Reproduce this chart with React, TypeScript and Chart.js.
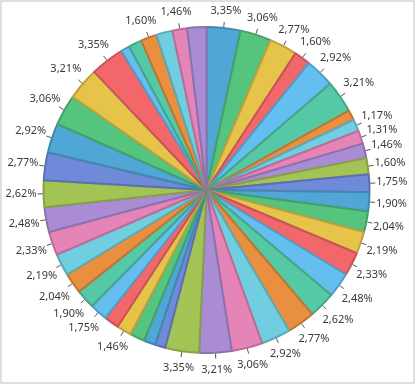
import { useEffect, useRef } from 'react';
import { Chart, registerables } from 'chart.js';

Chart.register(...registerables);

const categories = [
  'P01', 'P02', 'P03', 'P04', 'P05', 'P06', 'P07', 'P08', 'P09', 'P10',
  'P11', 'P12', 'P13', 'P14', 'P15', 'P16', 'P17', 'P18', 'P19', 'P20',
  'P21', 'P22', 'P23', 'P24', 'P25', 'P26', 'P27', 'P28', 'P29', 'P30',
  'P31', 'P32', 'P33', 'P34', 'P35', 'P36', 'P37', 'P38', 'P39', 'P40',
  'P41', 'P42', 'P43', 'P44', 'P45', 'P46',
];

const values = [
  23, 21, 19, 11, 20, 22,
  7, 8, 9, 10, 11, 12, 13, 14, 15, 16, 17, 18, 19, 20, 21, 22, 23,
  7, 8, 10, 10, 10,
  12, 13, 14, 15, 16, 17, 18, 19, 20, 21, 22, 23,
  6, 9, 11, 11, 10, 13,
];

// labels that the reference hides (overlap)
const hiddenLabels = [24, 25, 27, 41, 43, 45];

const palette = [
  '#50A6D4', '#54C47E', '#E6C44A', '#F2686A', '#64BEF0', '#55C9A6',
  '#E89040', '#70CEE0', '#E584B7', '#AA8CD4', '#A3C455', '#6E8AD8',
];
const borderPalette = [
  '#4288AE', '#45A167', '#BDA13D', '#C65557', '#529CC5', '#46A588',
  '#BE7634', '#5CA9B8', '#BC6C96', '#8B73AE', '#86A146', '#5A71B1',
];

const labelPlugin = {
  id: 'outLabels',
  afterDatasetsDraw(chart: any) {
    const ctx = chart.ctx as CanvasRenderingContext2D;
    const meta = chart.getDatasetMeta(0);
    const ds = chart.data.datasets[0].data as number[];
    const total = ds.reduce((a, b) => a + b, 0);
    ctx.save();
    ctx.font = '11px "Noto Sans"';
    ctx.textBaseline = 'middle';
    ctx.textAlign = 'center';
    ctx.strokeStyle = '#555555';
    ctx.fillStyle = '#3a3a3a';
    ctx.lineWidth = 1;
    meta.data.forEach((arc: any, i: number) => {
      const pct = (ds[i] / total) * 100;
      if (pct < 1.1 || hiddenLabels.includes(i)) return;
      const { x, y, startAngle, endAngle, outerRadius } = arc.getProps(
        ['x', 'y', 'startAngle', 'endAngle', 'outerRadius'],
        true
      );
      const mid = (startAngle + endAngle) / 2;
      const dx = Math.cos(mid);
      const dy = Math.sin(mid);
      const r1 = outerRadius + 1;
      const r2 = outerRadius + 6;
      ctx.beginPath();
      ctx.moveTo(x + dx * r1, y + dy * r1);
      ctx.lineTo(x + dx * r2, y + dy * r2);
      ctx.stroke();
      const text = pct.toFixed(2).replace('.', ',') + '%';
      const w = ctx.measureText(text).width;
      const cx = x + dx * r2 + dx * (w / 2 + 1);
      const cy = y + dy * r2 + Math.sign(dy) * Math.min(1, Math.abs(dy) * 1.6) * 11;
      ctx.fillText(text, cx, cy);
    });
    ctx.restore();
  },
};

const framePlugin = {
  id: 'frame',
  afterDraw(chart: any) {
    const ctx = chart.ctx as CanvasRenderingContext2D;
    ctx.save();
    ctx.strokeStyle = '#d3d3da';
    ctx.lineWidth = 1.5;
    ctx.strokeRect(1, 1, 413, 382);
    ctx.restore();
  },
};

export default function App() {
  const ref = useRef<HTMLCanvasElement>(null);
  useEffect(() => {
    const canvas = ref.current!;
    const chart = new Chart(canvas, {
      type: 'pie',
      data: {
        labels: categories,
        datasets: [
          {
            data: values,
            backgroundColor: values.map((_, i) => palette[i % palette.length]),
            borderColor: values.map((_, i) => borderPalette[i % borderPalette.length]),
            borderWidth: 2,
          },
        ],
      },
      options: {
        responsive: false,
        animation: false,
        devicePixelRatio: 1,
        radius: 163,
        layout: { padding: { left: 0, right: 3, top: 0, bottom: 5 } },
        plugins: {
          legend: { display: false },
          tooltip: { enabled: false },
        },
      } as any,
      plugins: [labelPlugin, framePlugin],
    });
    return () => chart.destroy();
  }, []);
  return (
    <div style={{ position: 'fixed', left: 0, top: 0, width: 416, height: 385, background: '#ffffff' }}>
      <canvas ref={ref} width={416} height={385} style={{ display: 'block', width: 416, height: 385 }} />
    </div>
  );
}
